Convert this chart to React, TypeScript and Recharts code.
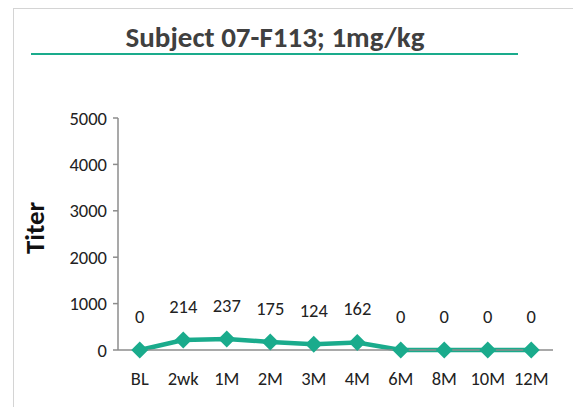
import React from "react";
import { LineChart, Line, XAxis, YAxis, LabelList } from "recharts";

const categories = ["BL", "2wk", "1M", "2M", "3M", "4M", "6M", "8M", "10M", "12M"];
const titers = [0, 214, 237, 175, 124, 162, 0, 0, 0, 0];
const yTicks = [0, 1000, 2000, 3000, 4000, 5000];

const data = categories.map((name, i) => ({ name, idx: i, titer: titers[i] }));
const labelTicks = categories.map((_, i) => i);
const betweenTicks = [...categories.map((_, i) => i - 0.5), categories.length - 0.5];

const TEAL = "#1aab8c";
const FONT = "Carlito, Calibri, 'Open Sans', sans-serif";

const Diamond = (props: any) => {
  const { cx, cy } = props;
  if (cx == null || cy == null) return null;
  return (
    <path
      d={`M${cx},${cy - 8.5} L${cx + 8.5},${cy} L${cx},${cy + 8.5} L${cx - 8.5},${cy} Z`}
      fill={TEAL}
    />
  );
};

export default function App() {
  return (
    <div
      style={{
        position: "absolute",
        left: 0,
        top: 0,
        width: 573,
        height: 407,
        overflow: "hidden",
        background: "#fff",
        fontFamily: FONT,
      }}
    >
      <div
        style={{
          position: "absolute",
          left: 13,
          top: 8,
          width: 600,
          height: 440,
          border: "1px solid #d4d4d4",
        }}
      />
      <div
        style={{
          position: "absolute",
          left: 0,
          width: 550,
          top: 20,
          textAlign: "center",
          fontSize: 29,
          fontWeight: "bold",
          color: "#404040",
          lineHeight: "34px",
        }}
      >
        Subject 07-F113; 1mg/kg
      </div>
      <div
        style={{
          position: "absolute",
          left: 31,
          top: 53,
          width: 487,
          height: 2,
          background: TEAL,
        }}
      />
      <div style={{ position: "absolute", left: 0, top: 0 }}>
        <LineChart
          width={573}
          height={407}
          data={data}
          margin={{ top: 118, right: 20, bottom: 27, left: 58 }}
        >
          <XAxis
            xAxisId="lab"
            dataKey="idx"
            type="number"
            domain={[-0.5, categories.length - 0.5]}
            ticks={labelTicks}
            tickFormatter={(v: number) => categories[v]}
            tickLine={false}
            axisLine={{ stroke: "#8c8c8c", strokeWidth: 1.5 }}
            tick={{ fill: "#222", fontSize: 18.5, fontFamily: FONT }}
            tickMargin={16}
            height={30}
            interval={0}
            allowDataOverflow
          />
          <XAxis
            xAxisId="tk"
            type="number"
            domain={[-0.5, categories.length - 0.5]}
            ticks={betweenTicks}
            tick={false}
            tickLine={{ stroke: "#8c8c8c", strokeWidth: 1.5 }}
            tickSize={6}
            axisLine={false}
            height={0}
            allowDataOverflow
          />
          <YAxis
            domain={[0, 5000]}
            ticks={yTicks}
            width={60}
            tickLine={{ stroke: "#8c8c8c", strokeWidth: 1.5 }}
            tickSize={5}
            axisLine={{ stroke: "#8c8c8c", strokeWidth: 1.5 }}
            tick={{ fill: "#222", fontSize: 18.5, fontFamily: FONT }}
            tickMargin={6}
            interval={0}
          />
          <Line
            xAxisId="lab"
            dataKey="titer"
            stroke={TEAL}
            strokeWidth={4.5}
            dot={<Diamond />}
            isAnimationActive={false}
          >
            <LabelList
              dataKey="titer"
              position="top"
              offset={27}
              fill="#222"
              fontSize={18.5}
              fontFamily={FONT}
            />
          </Line>
        </LineChart>
      </div>
      <div
        style={{
          position: "absolute",
          left: 34,
          top: 228,
          transform: "translate(-50%, -50%) rotate(-90deg)",
          fontSize: 27,
          fontWeight: "bold",
          color: "#111",
          whiteSpace: "nowrap",
        }}
      >
        Titer
      </div>
    </div>
  );
}
